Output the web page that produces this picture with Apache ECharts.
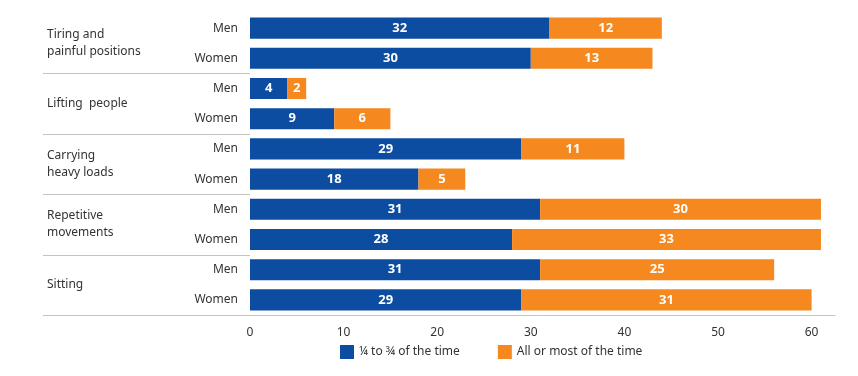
<!DOCTYPE html>
<html>
<head>
<meta charset="utf-8">
<script src="https://cdn.jsdelivr.net/npm/echarts@6/dist/echarts.min.js"></script>
<style>
  html, body { margin: 0; padding: 0; background: #fff; }
  #chart { width: 858px; height: 376px; }
</style>
</head>
<body>
<div id="chart"></div>
<script>
// groups + rows (two rows per group)
var groups = ['Tiring and\npainful positions', 'Lifting  people', 'Carrying\nheavy loads', 'Repetitive\nmovements', 'Sitting'];
var rows = ['Men', 'Women', 'Men', 'Women', 'Men', 'Women', 'Men', 'Women', 'Men', 'Women'];
var partTime = [32, 30, 4, 9, 29, 18, 31, 28, 31, 29];
var mostTime = [12, 13, 2, 6, 11, 5, 30, 33, 25, 31];
var seriesNames = ['\u00bc to \u00be of the time', 'All or most of the time'];
var xTicks = [0, 10, 20, 30, 40, 50, 60];

var FONT = '"Noto Sans", sans-serif';
var BLUE = '#0c4da2';
var ORANGE = '#f5891f';
var LINE = '#c4c4c4';

// unique keys so duplicate Men/Women names stay separate
var rowKeys = rows.map(function (r, i) { return r + '|' + i; });

var chart = echarts.init(document.getElementById('chart'));

var barLabel = {
  show: true,
  position: 'inside',
  color: '#fff',
  fontFamily: FONT,
  fontWeight: 'bold',
  fontSize: 13
};

chart.setOption({
  animation: false,
  textStyle: { fontFamily: FONT },
  grid: { left: 250, right: 23, top: 13, bottom: 61 },
  legend: {
    bottom: 12,
    left: 335,
    icon: 'rect',
    itemWidth: 14,
    itemHeight: 14,
    itemGap: 38,
    textStyle: { fontFamily: FONT, fontSize: 12, color: '#333' },
    data: seriesNames
  },
  xAxis: {
    type: 'value',
    min: xTicks[0],
    max: 62.5,
    interval: 10,
    splitLine: { show: false },
    axisTick: { show: false },
    axisLine: { show: true, lineStyle: { color: LINE, width: 1 } },
    axisLabel: {
      showMaxLabel: false,
      color: '#333',
      fontSize: 12,
      margin: 12,
      fontFamily: FONT
    }
  },
  yAxis: [
    {
      type: 'category',
      inverse: true,
      data: rowKeys,
      axisLine: { show: false },
      axisTick: { show: false },
      axisLabel: {
        color: '#333',
        fontSize: 12,
        margin: 12,
        fontFamily: FONT,
        formatter: function (v) { return v.split('|')[0]; }
      }
    },
    {
      type: 'category',
      inverse: true,
      position: 'left',
      offset: 203,
      data: groups,
      axisLine: { show: false },
      axisTick: { show: false },
      axisLabel: {
        align: 'left',
        margin: 0,
        color: '#333',
        fontSize: 12,
        lineHeight: 17,
        fontFamily: FONT
      }
    }
  ],
  series: [
    {
      name: seriesNames[0],
      type: 'bar',
      stack: 'total',
      barWidth: '70%',
      itemStyle: { color: BLUE },
      label: barLabel,
      data: partTime
    },
    {
      name: seriesNames[1],
      type: 'bar',
      stack: 'total',
      itemStyle: { color: ORANGE },
      label: barLabel,
      data: mostTime
    }
  ]
});

// group separator lines in the label column, placed from the category axis
var lines = [];
var x0 = 43;
var xGrid = chart.convertToPixel({ xAxisIndex: 0 }, 0);
for (var g = 1; g < groups.length; g++) {
  var a = chart.convertToPixel({ yAxisIndex: 0 }, rowKeys[g * 2 - 1]);
  var b = chart.convertToPixel({ yAxisIndex: 0 }, rowKeys[g * 2]);
  var y = Math.round((a + b) / 2) + 0.5;
  lines.push({ type: 'line', shape: { x1: x0, y1: y, x2: xGrid, y2: y }, style: { stroke: LINE, lineWidth: 1 } });
}
// extend the x axis line under the labels
var last = chart.convertToPixel({ yAxisIndex: 0 }, rowKeys[rowKeys.length - 1]);
var prev = chart.convertToPixel({ yAxisIndex: 0 }, rowKeys[rowKeys.length - 2]);
var yb = Math.round(last + (last - prev) / 2) + 0.5;
lines.push({ type: 'line', shape: { x1: x0, y1: yb, x2: xGrid, y2: yb }, style: { stroke: LINE, lineWidth: 1 } });

chart.setOption({ graphic: lines });
</script>
</body>
</html>
